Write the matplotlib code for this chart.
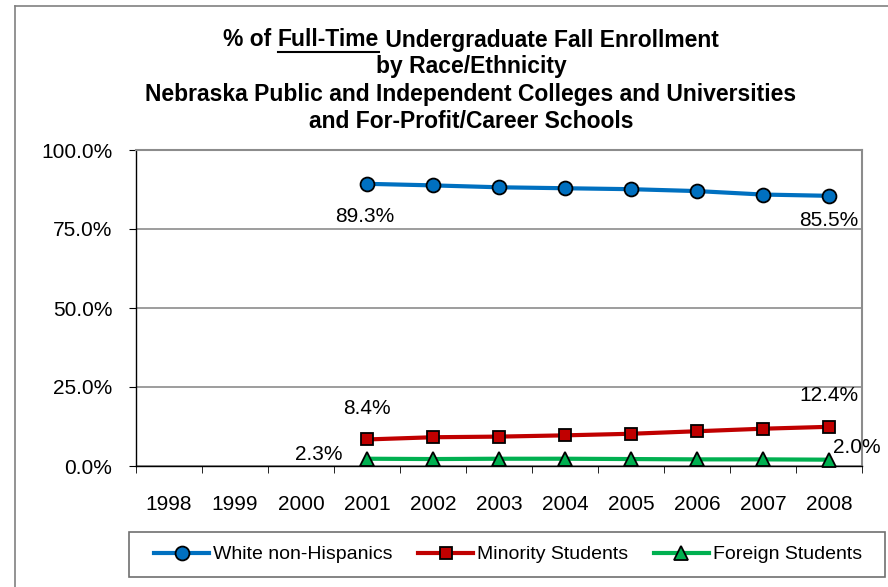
import matplotlib
matplotlib.use('Agg')
import matplotlib.pyplot as plt
from matplotlib.lines import Line2D
from matplotlib.patches import Rectangle
import numpy as np

plt.rcParams['font.family'] = ['Liberation Sans', 'DejaVu Sans']

# 数据
years = ['1998', '1999', '2000', '2001', '2002', '2003', '2004', '2005', '2006', '2007', '2008']
data_years = ['2001', '2002', '2003', '2004', '2005', '2006', '2007', '2008']
white = [89.3, 88.8, 88.2, 87.9, 87.6, 87.0, 85.9, 85.5]
minority = [8.4, 9.1, 9.3, 9.7, 10.2, 11.0, 11.8, 12.4]
foreign = [2.3, 2.2, 2.3, 2.3, 2.2, 2.1, 2.1, 2.0]
yticks = [0, 25, 50, 75, 100]

W, H = 888, 587
fig = plt.figure(figsize=(W / 100, H / 100), dpi=100)
ax = fig.add_axes([136 / W, 1 - 466 / H, (862 - 136) / W, (466 - 150) / H])

# 外框
fig.add_artist(Line2D([15 / W, 15 / W], [0, 1 - 6 / H], color='#808080', lw=1.2))
fig.add_artist(Line2D([15 / W, 1], [1 - 6 / H, 1 - 6 / H], color='#808080', lw=1.2))

x = np.arange(len(years))
xd = [years.index(y) for y in data_years]

series = [
    (white, '#0070C0', 'o', 10, 'White non-Hispanics'),
    (minority, '#C00000', 's', 9, 'Minority Students'),
    (foreign, '#00B050', '^', 10, 'Foreign Students'),
]
handles = []
for vals, c, m, ms, lab in series:
    h, = ax.plot(xd, vals, color=c, lw=3, marker=m, markersize=ms,
                 markerfacecolor=c, markeredgecolor='black', markeredgewidth=1.3,
                 label=lab, zorder=3, clip_on=False)
    handles.append(h)

# 数据标签
lbl = dict(fontsize=15, textcoords='offset pixels', ha='center', va='center')
ax.annotate(f'{white[0]:.1f}%', (xd[0], white[0]), xytext=(-2, -33), **lbl)
ax.annotate(f'{white[-1]:.1f}%', (xd[-1], white[-1]), xytext=(0, -25), **lbl)
ax.annotate(f'{minority[0]:.1f}%', (xd[0], minority[0]), xytext=(0, 31), **lbl)
ax.annotate(f'{minority[-1]:.1f}%', (xd[-1], minority[-1]), xytext=(0, 31), **lbl)
ax.annotate(f'{foreign[0]:.1f}%', (xd[0], foreign[0]), xytext=(-48, 4), **lbl)
ax.annotate(f'{foreign[-1]:.1f}%', (xd[-1], foreign[-1]), xytext=(28, 12), **lbl)

ax.set_xlim(-0.5, len(years) - 0.5)
ax.set_ylim(0, 100)
ax.set_yticks(yticks)
ax.set_yticklabels([f'{v:.1f}%' for v in yticks], fontsize=15)
ax.yaxis.grid(True, color='#8c8c8c', lw=1.2)
ax.set_axisbelow(True)

ax.set_xticks(x)
ax.set_xticklabels(years, fontsize=15)
ax.set_xticks(np.arange(-0.5, len(years)), minor=True)
ax.tick_params(axis='x', which='major', length=0, pad=21)
ax.tick_params(axis='x', which='minor', length=5, direction='out', color='black')
ax.tick_params(axis='y', length=5, direction='out', pad=12)

for s in ['left', 'bottom']:
    ax.spines[s].set_color('black')
    ax.spines[s].set_linewidth(1.0)
for s in ['top', 'right']:
    ax.spines[s].set_color('#8c8c8c')
    ax.spines[s].set_linewidth(1.5)

# 标题
tfs = 16.5
tx = 471 / W
title_lines = ['by Race/Ethnicity',
               'Nebraska Public and Independent Colleges and Universities',
               'and For-Profit/Career Schools']
for i, s in enumerate(title_lines):
    fig.text(tx, 1 - (67 + 27 * i) / H, s, ha='center', va='center',
             fontsize=tfs, fontweight='bold')

# 第一行：中间一段带下划线
parts = ['% of ', 'Full-Time', ' Undergraduate Fall Enrollment']
fig.canvas.draw()
r = fig.canvas.get_renderer()
widths = []
for p in parts:
    tmp = fig.text(0, 0, p.replace(' ', '\u00a0'), fontsize=tfs, fontweight='bold')
    widths.append(tmp.get_window_extent(r).width)
    tmp.remove()
xs = tx * W - sum(widths) / 2
y1 = 1 - 40 / H
for p, w in zip(parts, widths):
    fig.text(xs / W, y1, p.replace(' ', '\u00a0'), ha='left', va='center',
             fontsize=tfs, fontweight='bold')
    if p == 'Full-Time':
        uy = 1 - 51.5 / H
        fig.add_artist(Line2D([xs / W, (xs + w) / W], [uy, uy], color='black', lw=1.5))
    xs += w

# 图例
fig.add_artist(Rectangle((129 / W, 1 - 577 / H), (885 - 129) / W, 45 / H,
                         transform=fig.transFigure, fill=False,
                         edgecolor='#707070', lw=1.2))
leg = fig.legend(handles=handles, loc='center', bbox_to_anchor=(508 / W, 1 - 554.5 / H),
                 ncol=3, fontsize=14, frameon=False,
                 handlelength=2.85, handletextpad=0.2, columnspacing=1.3,
                 borderpad=0.55, borderaxespad=0)

fig.savefig('out.png', dpi=100)
